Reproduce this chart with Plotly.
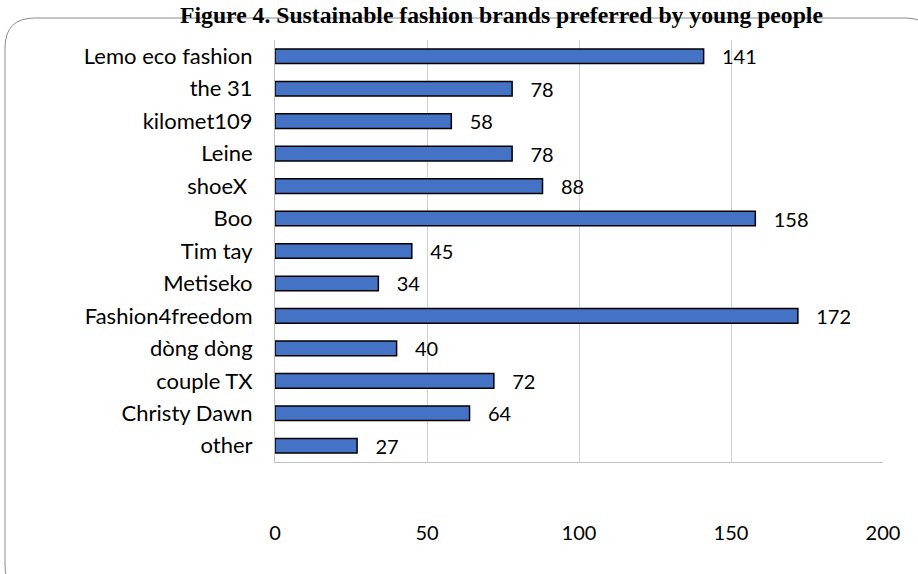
import plotly.graph_objects as go

brands = ["Lemo eco fashion", "the 31", "kilomet109", "Leine", "shoeX ", "Boo", "Tim tay",
          "Metiseko", "Fashion4freedom", "dòng dòng", "couple TX", "Christy Dawn", "other"]
counts = [141, 78, 58, 78, 88, 158, 45, 34, 172, 40, 72, 64, 27]
x_ticks = [0, 50, 100, 150, 200]
title_text = "Figure 4. Sustainable fashion brands preferred by young people"

W, H = 918, 574
L, R, T, B = 275, 35, 40, 112
pw, ph = W - L - R, H - T - B

def px(x):
    return (x - L) / pw

def py(y):
    return (H - B - y) / ph

fig = go.Figure(go.Bar(
    x=counts, y=brands, orientation="h",
    marker=dict(color="#4472C4", line=dict(color="black", width=1.5)),
    width=0.45,
    text=counts, texttemplate="   %{x}", textposition="outside",
    constraintext="none",
    textfont=dict(family="Lato", size=20, color="black"),
    cliponaxis=False,
    hoverinfo="skip",
))

# rounded frame
x0, x1 = px(5), px(935)
y0, y1 = py(595), py(18)
rx, ry = 30 / pw, 30 / ph
path = (f"M {x0+rx},{y1} L {x1-rx},{y1} Q {x1},{y1} {x1},{y1-ry} "
        f"L {x1},{y0+ry} Q {x1},{y0} {x1-rx},{y0} L {x0+rx},{y0} "
        f"Q {x0},{y0} {x0},{y0+ry} L {x0},{y1-ry} Q {x0},{y1} {x0+rx},{y1} Z")

fig.update_layout(
    width=W, height=H,
    margin=dict(l=L, r=R, t=T, b=B, pad=0, autoexpand=False),
    paper_bgcolor="white", plot_bgcolor="white",
    showlegend=False,
    bargap=0.55,
    font=dict(family="Lato", size=20, color="black"),
    shapes=[dict(type="path", xref="paper", yref="paper", path=path,
                 line=dict(color="#8c8c8c", width=1), layer="below")],
    annotations=[dict(text="<b>" + title_text + "</b>", xref="paper", yref="paper",
                      x=px(501), y=py(0), xanchor="center", yanchor="top",
                      showarrow=False,
                      font=dict(family="Liberation Serif", size=23.7, color="black"))],
    xaxis=dict(range=[0, 200], tickvals=x_ticks, showgrid=True, gridcolor="#d0d0d0",
               gridwidth=1, zeroline=False, showline=True, linecolor="#c0c0c0",
               ticks="", ticklabelstandoff=53, automargin=False,
               tickfont=dict(family="Lato", size=20, color="black"), fixedrange=True),
    yaxis=dict(categoryorder="array", categoryarray=brands, autorange="reversed",
               showline=True, linecolor="#c0c0c0", showgrid=False, ticks="",
               ticklabelstandoff=17, automargin=False, fixedrange=True,
               tickfont=dict(family="Lato", size=22, color="black")),
)

fig.write_html("out.html", config={"displayModeBar": False},
               post_script="document.body.style.margin='0';")
